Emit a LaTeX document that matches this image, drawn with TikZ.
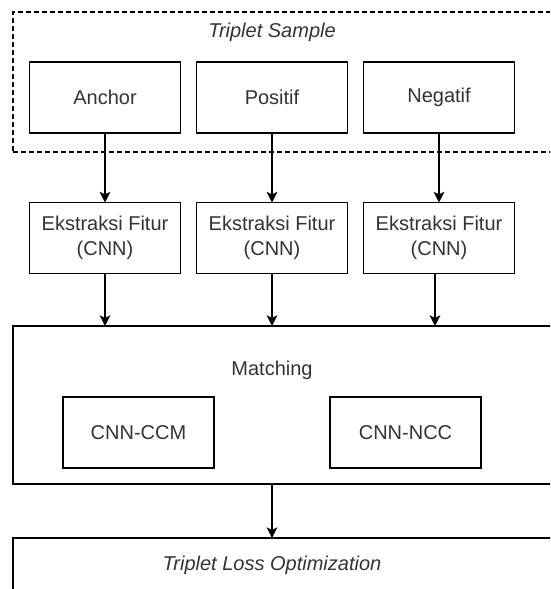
\documentclass[tikz,border=0pt]{standalone}
\usepackage{fontspec}
\setmainfont{Liberation Sans}
\usepackage{tikz}
\usetikzlibrary{arrows.meta}
\definecolor{BoxTextColor}{RGB}{51,51,51}

\begin{document}
\begin{tikzpicture}[x=0.75pt,y=-0.75pt,line width=1.2pt,
  font=\fontsize{15}{18.75}\selectfont,text=BoxTextColor,
  box/.style={draw,rectangle,outer sep=0pt,minimum width=113.25pt,minimum height=53.25pt,align=center},
  grpbox/.style={draw,rectangle,outer sep=0pt,anchor=north west,minimum width=410.25pt,minimum height=#1},
  arr/.style={-{Stealth[length=8pt,width=8pt,inset=2pt]}}]
\useasboundingbox (0,0) rectangle (550,589);
\clip (0,0) rectangle (550,589);
% containers
\node[grpbox=105pt,dash pattern=on 3.75pt off 2.25pt] (sample) at (13,12) {};
\node at (272,32) {\itshape Triplet Sample};
\node[grpbox=118.5pt] (match) at (13,326) {};
\node at (272,370) {Matching};
\node[grpbox=60pt] (loss) at (13,538) {};
\node at (272,565) {\itshape Triplet Loss Optimization};
% one column per triplet member
\foreach \n/\x/\t in {1/105/Anchor,2/272/Positif,3/439/Negatif} {
   \node[box] (s\n) at (\x,97.5) {\t};
   \node[box] (e\n) at (\x,238) {Ekstraksi Fitur\\(CNN)};
   \draw[arr] (s\n) -- (e\n);
}
\draw[arr] (e1.south) -- (e1.south |- match.north);
\draw[arr] (e2.south) -- (e2.south |- match.north);
\draw[arr] ([xshift=-3pt]e3.south) -- ([xshift=-3pt]e3.south |- match.north);
% matching methods
\node[box] (ccm) at (138.5,432.5) {CNN-CCM};
\node[box] (ncc) at (405.5,432.5) {CNN-NCC};
\draw[arr] (match.south -| e2.south) -- (loss.north -| e2.south);
\end{tikzpicture}
\end{document}
